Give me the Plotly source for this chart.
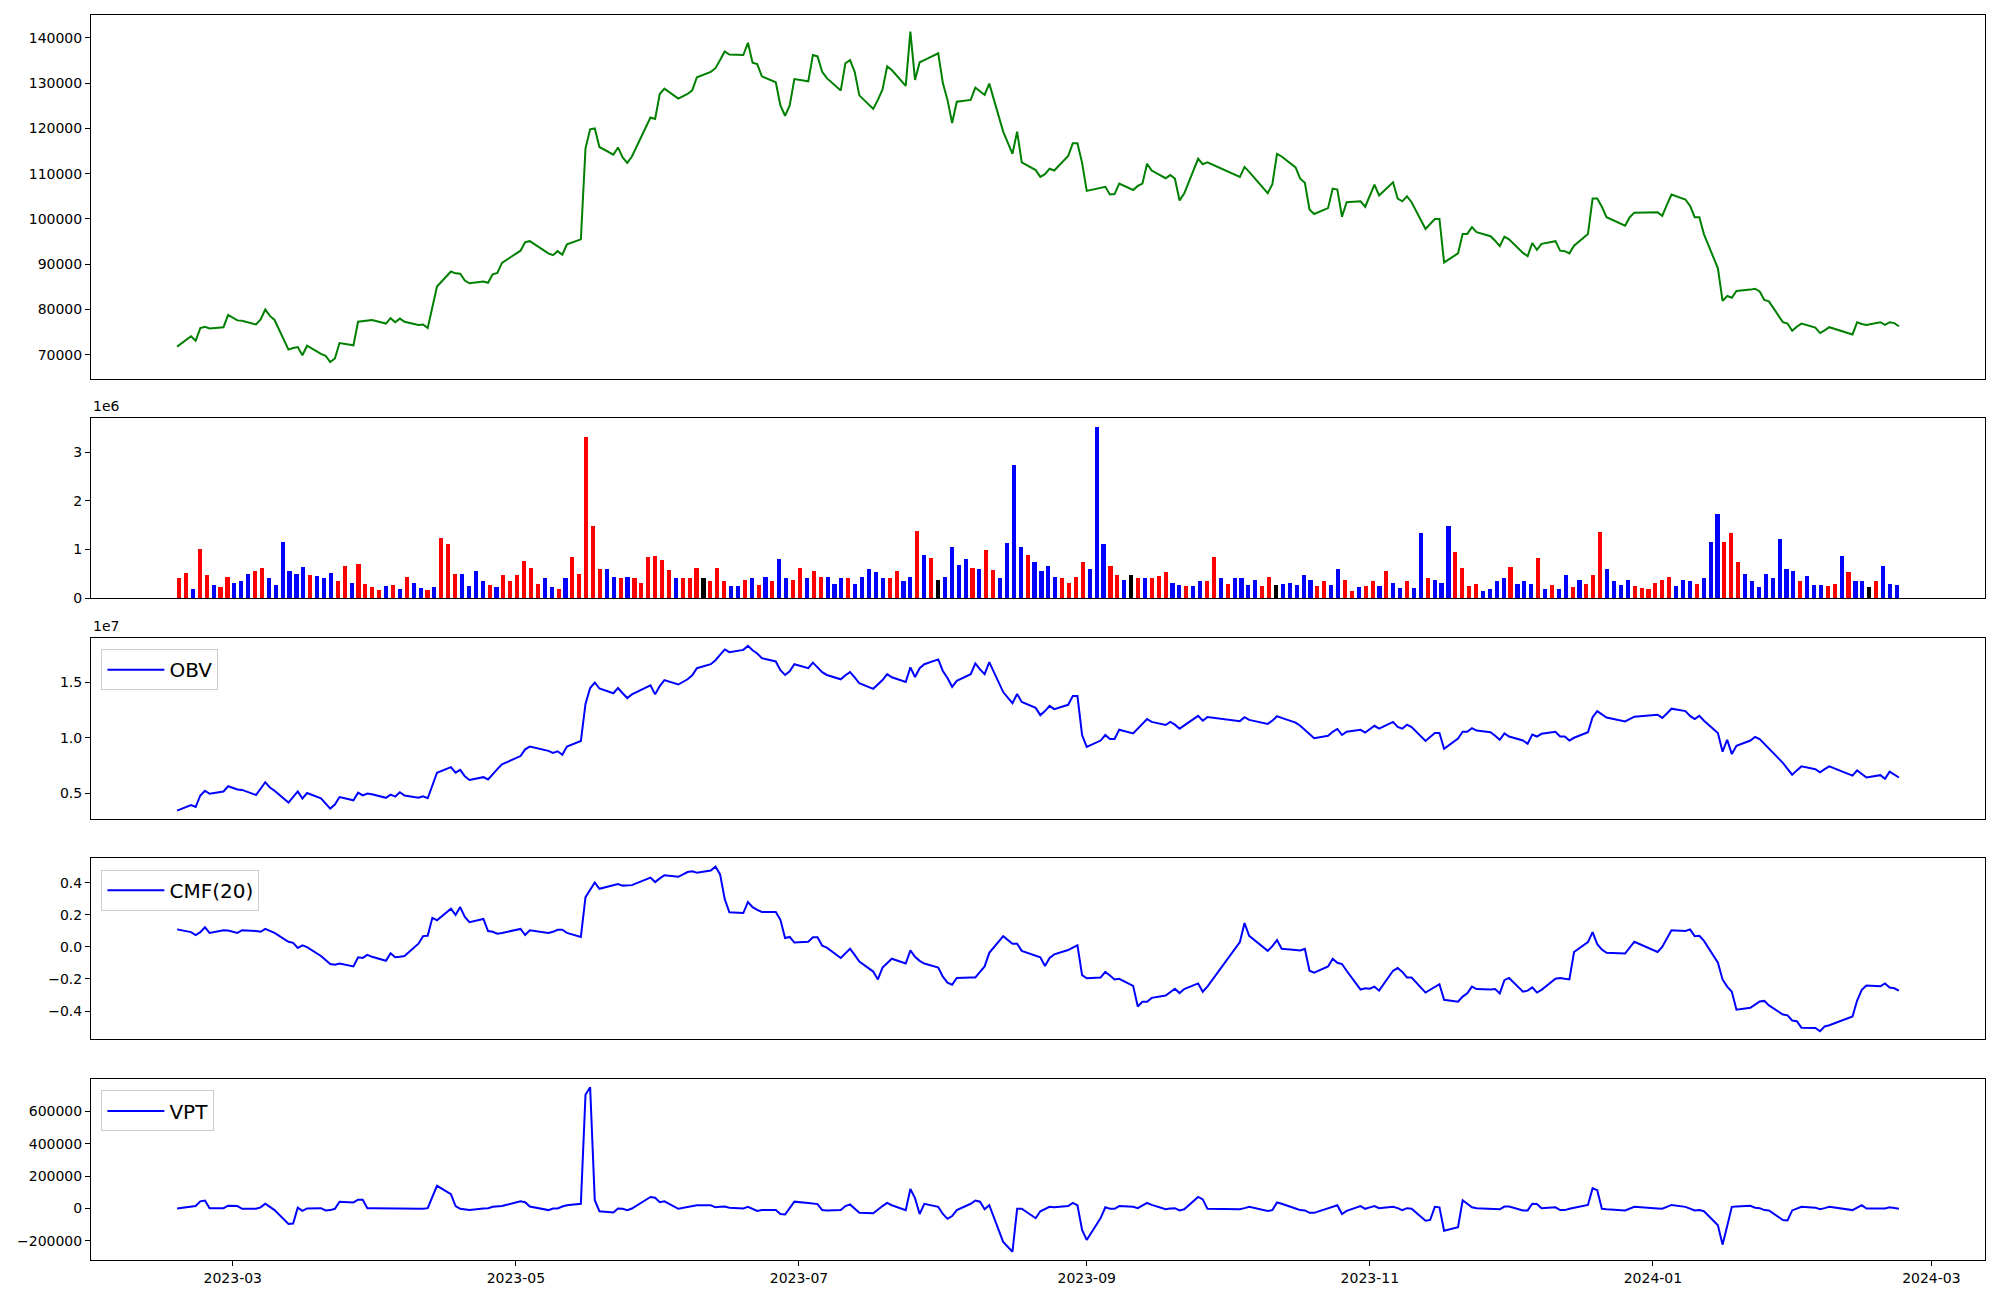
import pandas as pd
import plotly.graph_objects as go

# ---------------- data ----------------
krx_holidays = ["2023-03-01", "2023-05-01", "2023-05-05", "2023-05-29", "2023-06-06",
                "2023-08-15", "2023-09-28", "2023-09-29", "2023-10-02", "2023-10-03",
                "2023-10-09", "2023-12-25", "2023-12-29", "2024-01-01", "2024-02-09",
                "2024-02-12"]
dates = [d for d in pd.bdate_range("2023-02-17", "2024-02-23")
         if d.strftime("%Y-%m-%d") not in krx_holidays]

close = [
    71800, 74100, 73100, 75900, 76200, 75800, 76100, 78800, 77600, 77500,
    76700, 77800, 80000, 78600, 77700, 71150, 71500, 71700, 69900, 72000,
    70200, 69800, 68400, 69200, 72600, 72100, 77300, 77400, 77600, 77700,
    76900, 78100, 77200, 78000, 77300, 76600, 76700, 75900, 80500, 85100,
    88400, 88000, 87900, 86400, 85800, 86200, 85900, 87800, 88100, 90300,
    93000, 94900, 95100, 92400, 92000, 92900, 92100, 94400, 95500, 115600,
    119800, 120000, 115900, 114200, 115800, 113600, 112400, 113800, 122400, 122100,
    127600, 128800, 126600, 127600, 128400, 131300, 132500, 133300, 135100, 137000,
    136300, 136200, 138900, 134500, 134200, 131500, 130200, 125100, 122800, 125100,
    130900, 130400, 136200, 135900, 132500, 131100, 128400, 134400, 135100, 132500,
    127300, 124300, 126300, 128600, 133700, 132900, 129400, 141400, 130700, 134600,
    135100, 136600, 130000, 126300, 121200, 125900, 126300, 129000, 128200, 127400,
    129900, 119300, 114400, 119300, 112500, 110800, 109300, 109900, 111100, 110700,
    113900, 116700, 116700, 112400, 106200, 106800, 107100, 105400, 105500, 107800,
    106400, 107300, 107800, 112200, 110700, 109000, 109700, 108900, 104100, 105600,
    113300, 112100, 112500, 109300, 111500, 110400, 105700, 107700, 114400, 113800,
    111400, 108900, 108000, 102100, 101100, 102400, 106700, 106500, 100500, 103700,
    103900, 102700, 105300, 107600, 105200, 108100, 104500, 103900, 105000, 103700,
    97800, 98800, 100000, 100000, 90400, 92400, 96700, 96700, 98200, 97100,
    96200, 95200, 94000, 96100, 95500, 92500, 91800, 94700, 93200, 94500,
    95100, 93000, 92900, 92400, 94100, 96700, 104500, 104500, 102700, 100400,
    98500, 100400, 101400, 101500, 100700, 103100, 105400, 104300, 102900, 100400,
    100400, 96600, 89100, 81900, 83000, 82600, 84100, 84400, 84600, 84000,
    82100, 81800, 77200, 76900, 75300, 76200, 76900, 76000, 74800, 75400,
    76100, 74500, 77200, 76800, 76600, 77200, 76600, 77200, 77000, 76300,
]

volume_m = [
    0.41, 0.52, 0.19, 1.01, 0.47, 0.27, 0.23, 0.43, 0.31, 0.34,
    0.50, 0.56, 0.62, 0.41, 0.27, 1.15, 0.56, 0.50, 0.64, 0.47,
    0.46, 0.40, 0.52, 0.35, 0.65, 0.31, 0.70, 0.29, 0.23, 0.17,
    0.25, 0.27, 0.19, 0.43, 0.31, 0.21, 0.17, 0.23, 1.23, 1.10,
    0.50, 0.50, 0.25, 0.56, 0.34, 0.27, 0.23, 0.47, 0.35, 0.47,
    0.76, 0.62, 0.29, 0.40, 0.23, 0.19, 0.41, 0.84, 0.50, 3.31,
    1.48, 0.59, 0.59, 0.43, 0.41, 0.43, 0.41, 0.31, 0.84, 0.86,
    0.78, 0.58, 0.41, 0.41, 0.41, 0.62, 0.40, 0.34, 0.62, 0.35,
    0.25, 0.25, 0.37, 0.41, 0.27, 0.43, 0.34, 0.80, 0.41, 0.37,
    0.62, 0.40, 0.56, 0.43, 0.43, 0.29, 0.41, 0.41, 0.29, 0.43,
    0.59, 0.53, 0.41, 0.40, 0.56, 0.34, 0.43, 1.37, 0.88, 0.82,
    0.37, 0.43, 1.04, 0.68, 0.80, 0.62, 0.59, 0.98, 0.58, 0.41,
    1.13, 2.74, 1.04, 0.88, 0.74, 0.56, 0.65, 0.43, 0.41, 0.31,
    0.43, 0.74, 0.59, 3.53, 1.10, 0.65, 0.47, 0.37, 0.47, 0.40,
    0.40, 0.40, 0.46, 0.53, 0.31, 0.27, 0.25, 0.25, 0.34, 0.34,
    0.84, 0.40, 0.29, 0.40, 0.40, 0.27, 0.37, 0.25, 0.43, 0.27,
    0.29, 0.31, 0.27, 0.47, 0.37, 0.25, 0.35, 0.27, 0.59, 0.37,
    0.15, 0.23, 0.25, 0.35, 0.25, 0.56, 0.31, 0.21, 0.34, 0.21,
    1.34, 0.41, 0.37, 0.31, 1.48, 0.94, 0.62, 0.25, 0.29, 0.15,
    0.19, 0.35, 0.40, 0.64, 0.29, 0.35, 0.29, 0.82, 0.19, 0.27,
    0.19, 0.47, 0.23, 0.37, 0.29, 0.47, 1.36, 0.59, 0.34, 0.27,
    0.37, 0.25, 0.21, 0.19, 0.31, 0.37, 0.43, 0.25, 0.37, 0.34,
    0.29, 0.41, 1.15, 1.72, 1.15, 1.34, 0.74, 0.50, 0.35, 0.23,
    0.50, 0.41, 1.21, 0.59, 0.56, 0.34, 0.46, 0.27, 0.27, 0.25,
    0.29, 0.86, 0.53, 0.35, 0.34, 0.23, 0.35, 0.65, 0.29, 0.27,
]

# bar colour per day: u = up (red), d = down (blue), f = unchanged (black)
bar_direction_rows = [
    "uuduuduudd", "duuddddddu", "ddduuduuuu", "dududduduu", "udddduduuu",
    "uuudduduuu", "uudduduuuu", "uuduuufuuu", "ddudududdu", "uduudddudd",
    "ddduuddudu", "fdddduduud", "dddudddduu", "uuddduudfu", "duuudduddu",
    "ududddduuf", "ddddduuddu", "uduududdud", "duddduuuud", "dddudddudu",
    "dduduuuddd", "duuuuuuddd", "uddduuuddd", "dddddudddu", "ududdfuddd",
]

obv_m = [
    3.44, 3.94, 3.76, 4.80, 5.23, 4.95, 5.16, 5.63, 5.34, 5.30,
    4.84, 5.38, 5.99, 5.52, 5.23, 4.16, 4.66, 5.16, 4.52, 5.02,
    4.55, 4.09, 3.62, 3.98, 4.66, 4.37, 5.05, 4.80, 4.98, 4.91,
    4.59, 4.87, 4.70, 5.09, 4.80, 4.59, 4.73, 4.55, 5.70, 6.85,
    7.35, 6.85, 7.10, 6.52, 6.20, 6.45, 6.24, 6.74, 7.17, 7.60,
    8.35, 8.96, 9.21, 8.82, 8.64, 8.78, 8.46, 9.21, 9.71, 13.05,
    14.48, 14.98, 14.44, 14.01, 14.48, 14.01, 13.58, 13.91, 14.73, 13.91,
    14.66, 15.20, 14.80, 15.27, 15.63, 16.27, 16.63, 16.99, 17.53, 17.96,
    17.71, 17.92, 18.28, 17.89, 17.60, 17.17, 16.88, 16.09, 15.66, 15.99,
    16.63, 16.27, 16.77, 16.34, 15.91, 15.66, 15.27, 15.63, 15.91, 15.45,
    14.91, 14.41, 14.77, 15.20, 15.73, 15.45, 15.02, 16.34, 15.48, 16.27,
    16.63, 17.06, 16.02, 15.38, 14.59, 15.13, 15.73, 16.70, 16.16, 15.73,
    16.81, 14.12, 13.12, 13.94, 13.23, 12.69, 12.04, 12.40, 12.87, 12.58,
    12.97, 13.76, 13.76, 10.25, 9.18, 9.75, 10.25, 9.89, 9.89, 10.72,
    10.39, 10.80, 11.20, 11.68, 11.43, 11.15, 11.43, 11.18, 10.82, 11.11,
    11.97, 11.54, 11.86, 11.50, 11.86, 11.61, 11.25, 11.54, 11.94, 11.79,
    11.36, 11.08, 10.72, 10.36, 9.96, 10.18, 10.54, 10.79, 10.25, 10.54,
    10.72, 10.47, 10.79, 11.08, 10.82, 11.43, 10.97, 10.82, 11.18, 10.97,
    9.71, 10.07, 10.43, 10.43, 9.00, 9.93, 10.54, 10.54, 10.86, 10.65,
    10.50, 10.18, 9.82, 10.39, 10.11, 9.75, 9.46, 10.29, 10.11, 10.36,
    10.54, 10.11, 10.11, 9.75, 10.00, 10.50, 11.86, 12.40, 12.11, 11.83,
    11.47, 11.68, 11.90, 12.08, 11.79, 12.19, 12.62, 12.40, 11.97, 11.68,
    11.97, 11.54, 10.43, 8.75, 9.82, 8.53, 9.28, 9.75, 10.07, 9.89,
    9.46, 9.00, 7.74, 7.20, 6.67, 7.06, 7.42, 7.17, 6.88, 7.17,
    7.42, 6.59, 7.06, 6.74, 6.42, 6.63, 6.31, 6.95, 6.70, 6.42,
]

cmf20 = [
    0.109, 0.092, 0.074, 0.092, 0.122, 0.087, 0.104, 0.102, 0.087, 0.104,
    0.099, 0.094, 0.112, 0.099, 0.087, 0.032, 0.025, -0.007, 0.010, -0.002,
    -0.057, -0.082, -0.107, -0.112, -0.104, -0.122, -0.065, -0.069, -0.050, -0.062,
    -0.087, -0.040, -0.065, -0.062, -0.057, 0.020, 0.067, 0.069, 0.181, 0.166,
    0.238, 0.199, 0.248, 0.186, 0.154, 0.174, 0.099, 0.094, 0.082, 0.087,
    0.112, 0.074, 0.104, 0.087, 0.094, 0.107, 0.107, 0.087, 0.062, 0.310,
    0.355, 0.402, 0.362, 0.382, 0.392, 0.382, 0.385, 0.385, 0.432, 0.404,
    0.427, 0.447, 0.437, 0.467, 0.471, 0.462, 0.476, 0.501, 0.452, 0.298,
    0.216, 0.211, 0.280, 0.248, 0.231, 0.218, 0.218, 0.169, 0.055, 0.062,
    0.027, 0.032, 0.060, 0.060, 0.007, -0.005, -0.069, -0.042, -0.012, -0.050,
    -0.092, -0.154, -0.203, -0.129, -0.099, -0.074, -0.104, -0.022, -0.062, -0.087,
    -0.104, -0.129, -0.186, -0.223, -0.236, -0.194, -0.191, -0.191, -0.156, -0.122,
    -0.037, 0.067, 0.020, 0.020, -0.025, -0.057, -0.065, -0.119, -0.069, -0.047,
    -0.020, -0.005, 0.010, -0.176, -0.196, -0.191, -0.156, -0.179, -0.203, -0.199,
    -0.243, -0.372, -0.342, -0.342, -0.318, -0.303, -0.280, -0.261, -0.288, -0.263,
    -0.228, -0.280, -0.248, 0.030, 0.149, 0.069, -0.025, 0.005, 0.042, -0.012,
    -0.020, -0.022, -0.012, -0.149, -0.161, -0.122, -0.074, -0.099, -0.107, -0.149,
    -0.266, -0.258, -0.261, -0.248, -0.273, -0.149, -0.132, -0.156, -0.191, -0.191,
    -0.285, -0.266, -0.248, -0.233, -0.330, -0.342, -0.310, -0.290, -0.248, -0.263,
    -0.266, -0.263, -0.290, -0.208, -0.194, -0.280, -0.273, -0.253, -0.285, -0.268,
    -0.199, -0.194, -0.199, -0.203, -0.032, 0.030, 0.092, 0.017, -0.017, -0.037,
    -0.042, -0.005, 0.032, -0.032, 0.000, 0.052, 0.104, 0.099, 0.109, 0.067,
    0.069, 0.037, -0.099, -0.203, -0.248, -0.280, -0.392, -0.380, -0.360, -0.340,
    -0.337, -0.365, -0.422, -0.427, -0.459, -0.464, -0.504, -0.506, -0.526, -0.496,
    -0.489, -0.434, -0.335, -0.268, -0.241, -0.246, -0.228, -0.253, -0.258, -0.273,
]

vpt_k = [
    0, 12, 15, 44, 49, 2, 2, 17, 15, -2,
    -2, 7, 29, 10, -10, -96, -93, 5, -15, 0,
    2, -12, -10, -2, 42, 37, 54, 54, 2, 2,
    0, 2, 2, 0, 0, -2, -2, 2, 76, 140,
    88, 15, -2, -7, -10, 0, 2, 10, 12, 15,
    44, 39, 12, -10, 0, 0, 12, 20, 29, 701,
    748, 51, -17, -25, 0, -2, -10, 0, 71, 66,
    39, 44, -2, 10, 15, 20, 20, 7, 10, 12,
    5, 0, 10, -5, -15, -10, -10, -34, -37, 2,
    42, 34, 29, 27, -10, -12, -10, 15, 25, 0,
    -27, -29, -5, 15, 34, 20, -10, 120, 64, -34,
    29, 10, -34, -64, -47, -10, 29, 49, 42, -5,
    20, -206, -267, -2, -2, -60, -17, -2, 10, 7,
    15, 34, 20, -132, -194, -59, 7, -2, -2, 15,
    10, 2, 20, 34, 22, -5, 0, 2, -12, -5,
    71, 56, -2, -5, 2, 10, -15, -10, 37, 29,
    0, -10, -12, -27, -27, 2, 15, 20, -34, -15,
    15, -2, 7, 15, 2, 10, 2, -10, 2, -2,
    -76, -71, 10, 7, -137, -115, 51, 29, 7, 2,
    0, -2, -5, 12, 12, -12, -12, 29, 27, 2,
    7, -10, -10, -2, 5, 22, 125, 113, -2, -5,
    -12, 0, 10, 0, -2, 10, 22, 10, -2, -12,
    -10, -17, -103, -223, -108, 10, 12, 17, 5, 2,
    -10, -12, -71, -74, -12, 0, 10, 5, -5, 2,
    10, -10, 7, 20, 0, 2, 0, 7, 2, -2,
]

price_ticks = [70000, 80000, 90000, 100000, 110000, 120000, 130000, 140000]
volume_ticks = [0, 1e6, 2e6, 3e6]
volume_tick_labels = ["0", "1", "2", "3"]
obv_ticks = [5e6, 10e6, 15e6]
obv_tick_labels = ["0.5", "1.0", "1.5"]
cmf_ticks = [-0.4, -0.2, 0.0, 0.2, 0.4]
cmf_tick_labels = ["\u22120.4", "\u22120.2", "0.0", "0.2", "0.4"]
vpt_ticks = [-200000, 0, 200000, 400000, 600000]
vpt_tick_labels = ["\u2212200000", "0", "200000", "400000", "600000"]
date_ticks = ["2023-03-01", "2023-05-01", "2023-07-01", "2023-09-01",
              "2023-11-01", "2024-01-01", "2024-03-01"]
date_tick_labels = ["2023-03", "2023-05", "2023-07", "2023-09", "2023-11",
                    "2024-01", "2024-03"]

# ---------------- plotting ----------------
n = len(dates)
volume = [v * 1e6 for v in volume_m]
obv = [v * 1e6 for v in obv_m]
vpt = [v * 1e3 for v in vpt_k]
bar_direction = "".join(bar_direction_rows)
color_map = {"u": "red", "d": "blue", "f": "black"}
bar_colors = [color_map[c] for c in bar_direction[:n]]
idx = list(range(n))


def padded(lo, hi, frac=0.05):
    span = hi - lo
    return [lo - frac * span, hi + frac * span]


first, last = pd.Timestamp(dates[0]), pd.Timestamp(dates[-1])
pad = (last - first) * 0.05
date_range = [first - pad, last + pad]
bar_w = 0.6
vol_range = padded(-bar_w / 2, n - 1 + bar_w / 2)

FONT = "DejaVu Sans"
OFF = 8  # page body margin
W, H = 2000 - 2 * OFF, 1300 - 2 * OFF
ML = 90.6 - OFF
MT = 15.3 - OFF
MR = W - (1984.7 - OFF)
MB = H - (1260.0 - OFF)
plot_h = H - MT - MB


def dom(top_win, bot_win):
    t, b = top_win - OFF, bot_win - OFF
    return [1 - (b - MT) / plot_h, 1 - (t - MT) / plot_h]


d1 = dom(15.3, 378.8)
d2 = dom(418.4, 598.2)
d3 = dom(637.8, 818.9)
d4 = dom(858.4, 1039.5)
d5 = dom(1079.0, 1260.0)

axis_common = dict(showline=True, linecolor="black", linewidth=1, mirror=True,
                   showgrid=False, zeroline=False, automargin=False,
                   tickfont=dict(family=FONT, size=14, color="black"))
yax = dict(axis_common, ticks="outside", ticklen=5, tickwidth=1, tickcolor="black")
xhidden = dict(axis_common, ticks="", showticklabels=False)

fig = go.Figure()
fig.add_trace(go.Scatter(x=dates, y=close, mode="lines",
                         line=dict(color="green", width=2),
                         xaxis="x", yaxis="y", showlegend=False))
fig.add_trace(go.Bar(x=idx, y=volume, width=bar_w,
                     marker=dict(color=bar_colors, line=dict(width=0)),
                     xaxis="x2", yaxis="y2", showlegend=False))
fig.add_trace(go.Scatter(x=dates, y=obv, mode="lines", name="OBV",
                         line=dict(color="blue", width=2),
                         xaxis="x3", yaxis="y3", legend="legend"))
fig.add_trace(go.Scatter(x=dates, y=cmf20, mode="lines", name="CMF(20)",
                         line=dict(color="blue", width=2),
                         xaxis="x4", yaxis="y4", legend="legend2"))
fig.add_trace(go.Scatter(x=dates, y=vpt, mode="lines", name="VPT",
                         line=dict(color="blue", width=2),
                         xaxis="x5", yaxis="y5", legend="legend3"))

legend_style = dict(xanchor="left", yanchor="top", x=0.0055, itemwidth=57,
                    bgcolor="rgba(255,255,255,0.8)", bordercolor="#cccccc", borderwidth=1,
                    font=dict(family=FONT, size=20, color="black"))


def leg_y(panel_top_win):
    return 1 - (panel_top_win - OFF + 11.5 - MT) / plot_h


fig.update_layout(
    width=W, height=H,
    margin=dict(l=ML, r=MR, t=MT, b=MB, pad=0),
    paper_bgcolor="white", plot_bgcolor="white",
    font=dict(family=FONT, size=14, color="black"),
    bargap=0,
    xaxis=dict(xhidden, type="date", range=date_range, domain=[0, 1], anchor="y"),
    xaxis2=dict(xhidden, range=vol_range, domain=[0, 1], anchor="y2"),
    xaxis3=dict(xhidden, type="date", range=date_range, domain=[0, 1], anchor="y3"),
    xaxis4=dict(xhidden, type="date", range=date_range, domain=[0, 1], anchor="y4"),
    xaxis5=dict(axis_common, type="date", range=date_range, domain=[0, 1], anchor="y5",
                ticks="outside", ticklen=5, tickwidth=1, tickcolor="black",
                tickvals=date_ticks, ticktext=date_tick_labels),
    yaxis=dict(yax, domain=d1, anchor="x", range=padded(min(close), max(close)),
               tickvals=price_ticks, ticktext=[str(t) for t in price_ticks]),
    yaxis2=dict(yax, domain=d2, anchor="x2", range=[0, max(volume) * 1.05],
                tickvals=volume_ticks, ticktext=volume_tick_labels),
    yaxis3=dict(yax, domain=d3, anchor="x3", range=padded(min(obv), max(obv)),
                tickvals=obv_ticks, ticktext=obv_tick_labels),
    yaxis4=dict(yax, domain=d4, anchor="x4", range=padded(min(cmf20), max(cmf20)),
                tickvals=cmf_ticks, ticktext=cmf_tick_labels),
    yaxis5=dict(yax, domain=d5, anchor="x5", range=padded(min(vpt), max(vpt)),
                tickvals=vpt_ticks, ticktext=vpt_tick_labels),
    legend=dict(legend_style, y=leg_y(637.8)),
    legend2=dict(legend_style, y=leg_y(858.4)),
    legend3=dict(legend_style, y=leg_y(1079.0)),
    annotations=[
        dict(text="1e6", xref="paper", yref="paper", x=0, y=d2[1], xanchor="left",
             yanchor="bottom", yshift=2, showarrow=False,
             font=dict(family=FONT, size=14, color="black")),
        dict(text="1e7", xref="paper", yref="paper", x=0, y=d3[1], xanchor="left",
             yanchor="bottom", yshift=2, showarrow=False,
             font=dict(family=FONT, size=14, color="black")),
    ],
)

fig.write_html("out.html")
